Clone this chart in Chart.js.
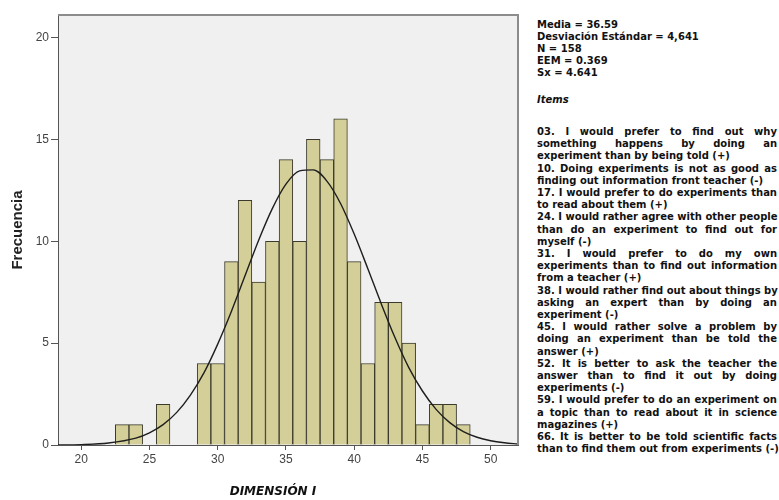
<!DOCTYPE html>
<html>
<head>
<meta charset="utf-8">
<script src="https://cdn.jsdelivr.net/npm/chart.js@4.4.1/dist/chart.umd.min.js"></script>
<style>
body { margin: 0; width: 779px; height: 500px; background: #fff; position: relative; overflow: hidden; font-family: "DejaVu Sans", sans-serif; }
#wrap { position: absolute; left: 0; top: 0; width: 530px; height: 500px; }
#xtitle { position: absolute; left: 173px; width: 200px; top: 484px; text-align: center; font: italic bold 12px "DejaVu Sans", sans-serif; color: #111; }
#notes { position: absolute; left: 537px; top: 19px; width: 240px; font-size: 10px; font-weight: bold; color: #111; }
.stat { line-height: 12px; white-space: nowrap; }
.head { font-style: italic; line-height: 12px; margin: 15px 0 20px; }
.ln { line-height: 12.2px; white-space: nowrap; text-align: justify; text-align-last: justify; }
.ln.end { text-align-last: left; }
</style>
</head>
<body>
<div id="wrap"><canvas id="histChart" width="530" height="500"></canvas></div>
<div id="xtitle">DIMENSIÓN I</div>
<div id="notes"></div>
<script>
// Histogram bins (score) and counts
const binScores = [23, 24, 26, 29, 30, 31, 32, 33, 34, 35, 36, 37, 38, 39, 40, 41, 42, 43, 44, 45, 46, 47, 48];
const binCounts = [1, 1, 2, 4, 4, 9, 12, 8, 10, 14, 10, 15, 14, 16, 9, 4, 7, 7, 5, 1, 2, 2, 1];

// Normal curve
const curveX = [18, 20, 22, 24, 25, 26, 27, 28, 29, 30, 31, 32, 33, 34, 35, 36, 37, 38, 39, 40, 41, 42, 43, 44, 45, 46, 47, 48, 49, 50, 51, 52];
const curveY = [0.0, 0.02, 0.1, 0.34, 0.6, 1.0, 1.6, 2.45, 3.55, 4.95, 6.55, 8.3, 10.05, 11.6, 12.8, 13.45, 13.5, 12.95, 11.85, 10.35, 8.65, 6.9, 5.25, 3.8, 2.65, 1.75, 1.1, 0.66, 0.38, 0.21, 0.11, 0.05];

const xTicks = [20, 25, 30, 35, 40, 45, 50];
const yTicks = [0, 5, 10, 15, 20];

const stats = ['Media = 36.59', 'Desviación Estándar = 4,641', 'N = 158', 'EEM = 0.369', 'Sx = 4.641'];
const items = [
    ['03. I would prefer to find out why', 'something happens by doing an', 'experiment than by being told (+)'],
    ['10. Doing experiments is not as good as', 'finding out information front teacher (-)'],
    ['17. I would prefer to do experiments than', 'to read about them (+)'],
    ['24. I would rather agree with other people', 'than do an experiment to find out for', 'myself (-)'],
    ['31. I would prefer to do my own', 'experiments than to find out information', 'from a teacher (+)'],
    ['38. I would rather find out about things by', 'asking an expert than by doing an', 'experiment (-)'],
    ['45. I would rather solve a problem by', 'doing an experiment than be told the', 'answer (+)'],
    ['52. It is better to ask the teacher the', 'answer than to find it out by doing', 'experiments (-)'],
    ['59. I would prefer to do an experiment on', 'a topic than to read about it in science', 'magazines (+)'],
    ['66. It is better to be told scientific facts', 'than to find them out from experiments (-)']
];

// Side notes
const notes = document.getElementById('notes');
notes.innerHTML =
    stats.map(s => `<div class="stat">${s}</div>`).join('') +
    '<div class="head">Items</div>' +
    items.map(lines => lines.map((l, i) =>
        `<div class="ln${i === lines.length - 1 ? ' end' : ''}">${l}</div>`).join('')).join('');

// Grey plot background and frame
const plotFrame = {
    id: 'plotFrame',
    beforeDraw(chart) {
        const { ctx, chartArea: a } = chart;
        ctx.save();
        ctx.fillStyle = '#f0f0f0';
        ctx.fillRect(a.left, a.top, a.right - a.left, a.bottom - a.top);
        ctx.restore();
    },
    afterDraw(chart) {
        const { ctx, chartArea: a } = chart;
        ctx.save();
        ctx.strokeStyle = '#8c8c8c';
        ctx.lineWidth = 2;
        ctx.beginPath();
        ctx.moveTo(a.left, a.top);
        ctx.lineTo(a.right, a.top);
        ctx.lineTo(a.right, a.bottom);
        ctx.stroke();
        ctx.restore();
    }
};

const tickFont = { family: '"Liberation Sans", Arial, sans-serif', size: 12 };

new Chart(document.getElementById('histChart'), {
    type: 'bar',
    data: {
        datasets: [
            {
                type: 'line',
                data: curveX.map((x, i) => ({ x, y: curveY[i] })),
                borderColor: '#1e1e1e',
                borderWidth: 1.4,
                pointRadius: 0,
                cubicInterpolationMode: 'monotone',
                order: 0
            },
            {
                type: 'bar',
                data: binScores.map((x, i) => ({ x, y: binCounts[i] })),
                backgroundColor: '#d4cf98',
                borderColor: '#3b3a2c',
                borderWidth: 1,
                barPercentage: 1,
                categoryPercentage: 1,
                order: 1
            }
        ]
    },
    options: {
        responsive: false,
        animation: false,
        layout: { padding: { top: 15, right: 12, left: 0, bottom: 0 } },
        plugins: { legend: { display: false }, tooltip: { enabled: false } },
        scales: {
            x: {
                type: 'linear',
                offset: false,
                min: 18.3,
                max: 52,
                afterBuildTicks: axis => { axis.ticks = xTicks.map(v => ({ value: v })); },
                afterFit: axis => { axis.height = 55; },
                grid: { drawOnChartArea: false, offset: false, color: '#555', tickLength: 5 },
                border: { color: '#555' },
                ticks: { font: tickFont, color: '#444', padding: 2, autoSkip: false, maxRotation: 0 }
            },
            y: {
                min: 0,
                max: 21.1,
                afterBuildTicks: axis => { axis.ticks = yTicks.map(v => ({ value: v })); },
                afterFit: axis => { axis.width = 58; },
                grid: { drawOnChartArea: false, color: '#555', tickLength: 7 },
                border: { color: '#555' },
                ticks: { font: tickFont, color: '#444', padding: 2 },
                title: {
                    display: true,
                    text: 'Frecuencia',
                    color: '#222',
                    font: { family: '"Liberation Sans", Arial, sans-serif', size: 15, weight: 'bold' },
                    padding: { top: 9, bottom: 0 }
                }
            }
        }
    },
    plugins: [plotFrame]
});
</script>
</body>
</html>
